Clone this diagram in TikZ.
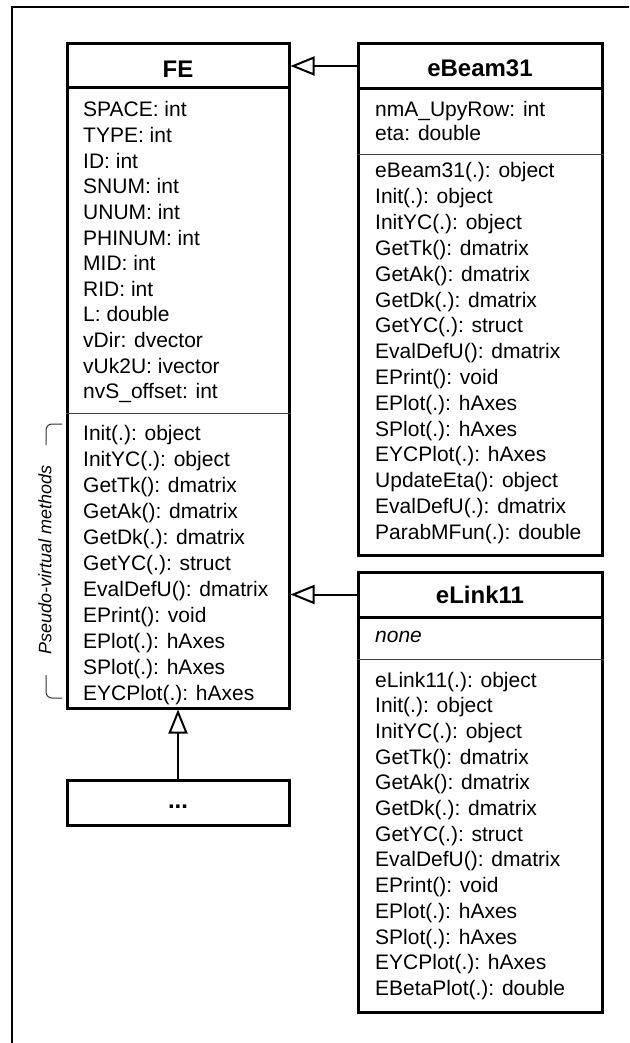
\documentclass[tikz,border=0pt]{standalone}
\usepackage{fontspec}
\setmainfont{Liberation Sans}
\usetikzlibrary{arrows.meta}
\begin{document}
\begin{tikzpicture}[x=1pt,y=-1pt,
  box/.style={draw, line width=3pt, rectangle, inner sep=0pt},
  ttl/.style={font=\fontsize{24}{28}\selectfont\bfseries, inner sep=0pt, anchor=base},
  itm/.style={font=\fontsize{21}{25}\selectfont, inner sep=0pt, anchor=base west},
  thinsep/.style={line width=1pt, black!75},
  thicksep/.style={line width=3pt},
  gen/.style={line width=2pt, -{Triangle[open, length=24pt, width=19pt, line width=2pt]}},
  frameline/.style={line width=2pt},
  bracket/.style={line width=1pt, black!80, rounded corners=6pt}
]
\useasboundingbox (0,0) rectangle (629,1043);
% outer frame
\draw[frameline] (12,1043) -- (12,7) -- (629,7);

% ---------- FE ----------
\node[box, minimum width=222pt, minimum height=664pt] (fe) at (178,376) {};
\node[ttl] (fetitle) at (178,78) {FE};
\draw[thicksep] (fe.west |- 0,88) -- (fe.east |- 0,88);
\draw[thinsep] (fe.west |- 0,413) -- (fe.east |- 0,413);
\foreach \t [count=\i] in {{SPACE: int},{TYPE: int},{ID: int},{SNUM: int},{UNUM: int},{PHINUM: int},{MID: int},{RID: int},{L: double},{vDir: dvector},{vUk2U: ivector},{nvS\_offset: int}}
  \node[itm] (fea\i) at (83,{117+(\i-1)*25.6}) {\t};
\foreach \t [count=\i] in {{Init(.): object},{InitYC(.): object},{GetTk(): dmatrix},{GetAk(): dmatrix},{GetDk(.): dmatrix},{GetYC(.): struct},{EvalDefU(): dmatrix},{EPrint(): void},{EPlot(.): hAxes},{SPlot(.): hAxes},{EYCPlot(.): hAxes}}
  \node[itm] (fem\i) at (83,{440+(\i-1)*26}) {\t};

% bracket
\draw[bracket] (62,424) -- (46,424) -- (46,445);
\draw[bracket] (46,675) -- (46,698) -- (62,698);
\node[rotate=90, font=\fontsize{18}{20}\selectfont\itshape, inner sep=0pt] (pv) at (45,560) {Pseudo-virtual methods};

% ---------- ... ----------
\node[box, minimum width=222pt, minimum height=45pt] (dots) at (178,802.5) {};
\node[ttl] (dotstext) at (178,808) {...};

% ---------- eBeam31 ----------
\node[box, minimum width=244pt, minimum height=511pt] (eb) at (480,299.5) {};
\node[ttl] (ebtitle) at (480,77) {eBeam31};
\draw[thicksep] (eb.west |- 0,89) -- (eb.east |- 0,89);
\draw[thinsep] (eb.west |- 0,155) -- (eb.east |- 0,155);
\foreach \t [count=\i] in {{nmA\_UpyRow: int},{eta: double}}
  \node[itm] (eba\i) at (375,{117+(\i-1)*24}) {\t};
\foreach \t [count=\i] in {{eBeam31(.): object},{Init(.): object},{InitYC(.): object},{GetTk(): dmatrix},{GetAk(): dmatrix},{GetDk(.): dmatrix},{GetYC(.): struct},{EvalDefU(): dmatrix},{EPrint(): void},{EPlot(.): hAxes},{SPlot(.): hAxes},{EYCPlot(.): hAxes},{UpdateEta(): object},{EvalDefU(.): dmatrix},{ParabMFun(.): double}}
  \node[itm] (ebm\i) at (375,{178+(\i-1)*25.8}) {\t};

% ---------- eLink11 ----------
\node[box, minimum width=244pt, minimum height=440pt] (el) at (480,792) {};
\node[ttl] (eltitle) at (480,603) {eLink11};
\draw[thicksep] (el.west |- 0,617) -- (el.east |- 0,617);
\draw[thinsep] (el.west |- 0,659) -- (el.east |- 0,659);
\node[itm, font=\fontsize{21}{25}\selectfont\itshape] (ela1) at (375,642) {none};
\foreach \t [count=\i] in {{eLink11(.): object},{Init(.): object},{InitYC(.): object},{GetTk(): dmatrix},{GetAk(): dmatrix},{GetDk(.): dmatrix},{GetYC(.): struct},{EvalDefU(): dmatrix},{EPrint(): void},{EPlot(.): hAxes},{SPlot(.): hAxes},{EYCPlot(.): hAxes},{EBetaPlot(.): double}}
  \node[itm] (elm\i) at (375,{687+(\i-1)*25.7}) {\t};

% ---------- generalisation arrows ----------
\draw[gen] (eb.west |- 0,66) -- (fe.east |- 0,66);
\draw[gen] (el.west |- 0,594.5) -- (fe.east |- 0,594.5);
\draw[gen] (dots.north) -- (fe.south);
\end{tikzpicture}
\end{document}
